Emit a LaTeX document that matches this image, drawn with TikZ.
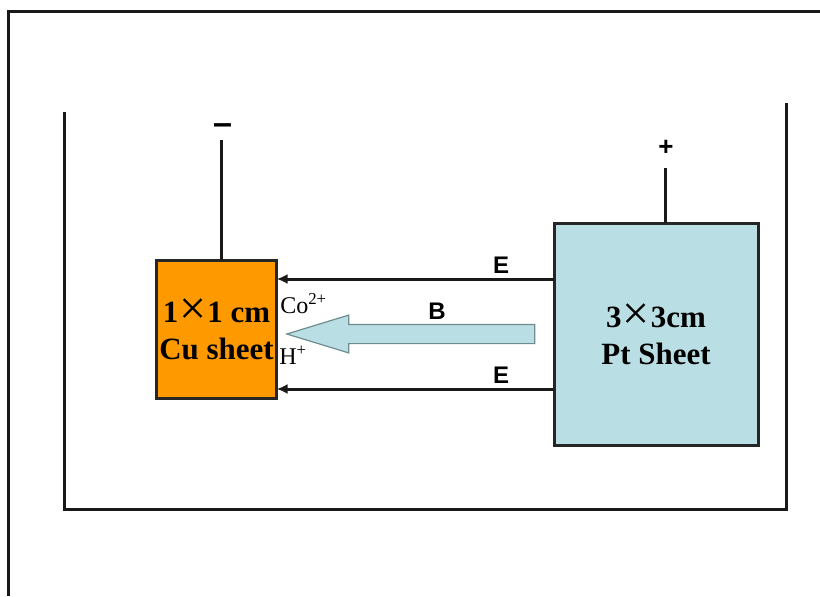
\documentclass[tikz,border=0pt]{standalone}
\usepackage{fontspec}
\setmainfont{Liberation Serif}
\setsansfont{Liberation Sans}
\usepackage{tikz}
\usetikzlibrary{shapes.arrows, arrows.meta, positioning}
\definecolor{coolorange}{HTML}{FF9900}
\definecolor{lightteal}{HTML}{B9DEE3}
\definecolor{arrowedge}{HTML}{6F8C8E}
\newcommand{\bigcross}{\kern0.8pt\raisebox{-1.6pt}{\fontsize{36}{36}\selectfont\mdseries ×}\kern0.8pt}
\tikzset{
	sheetbox/.style={draw=black!85, line width=2.25pt, inner sep=0pt, outer sep=0pt, align=center,
		font=\fontsize{23.2}{27.6}\selectfont\bfseries},
	wallline/.style={draw=black!90, line width=2.25pt},
	wireline/.style={draw=black!90, line width=2.25pt},
	fieldline/.style={draw=black!90, line width=2.25pt, -{Latex[length=8pt,width=7.5pt]}},
	ionlabel/.style={inner sep=0pt, font=\fontsize{18}{18}\selectfont},
	fieldlabel/.style={inner sep=0pt, font=\sffamily\bfseries\fontsize{18}{18}\selectfont}
}

\begin{document}
\begin{tikzpicture}[x=0.75pt, y=-0.75pt]
	\useasboundingbox (0,0) rectangle (820,596);
	% frame and bath
	\draw[wallline, line width=2.8pt] (8.5,596) -- (8.5,11.5) -- (820,11.5);
	\draw[wallline] (64,112) -- (64,509) -- (786,509) -- (786,103);
	% sheets
	\node[sheetbox, fill=coolorange, minimum width=90.5pt, minimum height=104pt] (cusheet) at (216.5,329.5) {1\bigcross1 cm\\Cu sheet};
	\node[sheetbox, fill=lightteal, minimum width=153pt, minimum height=166.5pt] (ptsheet) at (656,334) {3\bigcross3cm\\Pt Sheet};
	% wires
	\coordinate (cuend) at (221,140);
	\coordinate (ptend) at (665,168);
	\draw[wireline] (cuend) -- (cuend |- cusheet.north);
	\draw[wireline] (ptend) -- (ptend |- ptsheet.north);
	\node[inner sep=0pt, font=\sffamily\bfseries\fontsize{25.6}{26}\selectfont] (minus) at (222.5,129) {–};
	\node[inner sep=0pt, font=\sffamily\bfseries\fontsize{19.5}{20}\selectfont] (plus) at (666,148) {+};
	% field lines
	\coordinate (upperfield) at (ptsheet.west |- 0,279);
	\coordinate (lowerfield) at (ptsheet.west |- 0,389);
	\draw[fieldline] (upperfield) -- (upperfield -| cusheet.east);
	\draw[fieldline] (lowerfield) -- (lowerfield -| cusheet.east);
	\node[fieldlabel] (upperE) at (501,265) {E};
	\node[fieldlabel] (lowerE) at (501,375) {E};
	% flow arrow
	\node[single arrow, shape border rotate=180, draw=arrowedge, fill=lightteal, line width=0.9pt,
		minimum height=186pt, single arrow head extend=7pt,
		single arrow tip angle=34, inner xsep=0pt, inner ysep=6.75pt, outer sep=0pt] (flow) at (426.5,334) {};
	\node[fieldlabel] (flowlabel) at (437,311) {B};
	% ions
	\node[ionlabel, anchor=base west] (coion) at (280,313) {Co\textsuperscript{2+}};
	\node[ionlabel, anchor=base west] (hion) at (279,364) {H\textsuperscript{+}};
\end{tikzpicture}
\end{document}
